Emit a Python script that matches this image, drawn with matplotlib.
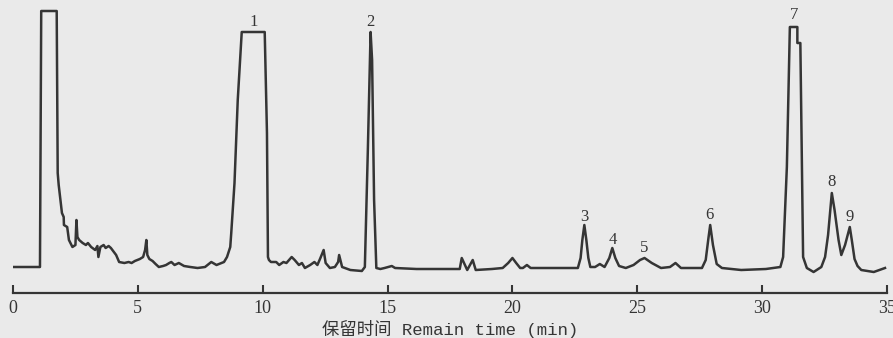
import matplotlib.pyplot as plt

# retention time (min) and detector response (a.u.)
time = [0, 1.08, 1.13, 1.75, 1.79, 1.83, 1.92, 1.96, 2.03, 2.04, 2.17, 2.24, 2.38, 2.5,
        2.54, 2.58, 2.65, 2.79, 2.92, 3.0, 3.13, 3.29, 3.38, 3.42, 3.5, 3.63, 3.71, 3.83,
        3.92, 4.04, 4.13, 4.25, 4.46, 4.63, 4.75, 4.88, 5.08, 5.21, 5.29, 5.34, 5.38, 5.46,
        5.59, 5.71, 5.84, 6.01, 6.13, 6.26, 6.34, 6.47, 6.64, 6.85, 7.10, 7.39, 7.69, 7.94,
        8.15, 8.45, 8.57, 8.70, 8.74, 8.87, 9.0, 9.16, 10.08, 10.17, 10.21, 10.25, 10.33,
        10.54, 10.66, 10.83, 10.95, 11.16, 11.28, 11.45, 11.57, 11.69, 11.90, 12.07, 12.19,
        12.31, 12.44, 12.52, 12.69, 12.89, 13.02, 13.06, 13.18, 13.51, 13.97, 14.09, 14.21,
        14.32, 14.38, 14.46, 14.55, 14.71, 14.88, 15.17, 15.30, 16.16, 17.89, 17.97, 18.19,
        18.41, 18.53, 19.18, 19.61, 19.83, 20.0, 20.15, 20.31, 20.42, 20.58, 20.73, 21.58,
        22.62, 22.73, 22.80, 22.88, 22.96, 23.04, 23.12, 23.31, 23.5, 23.69, 23.88, 24.0,
        24.12, 24.27, 24.54, 24.85, 25.11, 25.29, 25.58, 25.95, 26.31, 26.53, 26.75, 27.59,
        27.74, 27.85, 27.92, 28.03, 28.18, 28.39, 29.16, 30.15, 30.73, 30.84, 30.99, 31.11,
        31.41, 31.41, 31.53, 31.64, 31.79, 32.06, 32.37, 32.52, 32.64, 32.79, 32.90, 33.06,
        33.17, 33.32, 33.51, 33.59, 33.70, 33.82, 33.97, 34.47, 34.92]
signal = [0, 0, 256, 256, 94, 82, 62, 54, 50, 42, 40, 27, 20, 22,
          47, 30, 27, 24, 22, 24, 20, 17, 21, 10, 20, 22, 19, 21,
          19, 15, 12, 5, 4, 5, 4, 6, 8, 10, 17, 27, 12, 8,
          6, 3, 0, 1, 2, 4, 5, 2, 4, 1, 0, -1, 0, 5,
          2, 5, 10, 20, 34, 84, 167, 235, 235, 134, 10, 7, 5,
          5, 2, 5, 4, 10, 7, 2, 4, -1, 2, 5, 2,
          9, 17, 4, -1, 0, 5, 12, 0, -3, -4, 0, 117,
          235, 207, 67, -1, -2, -1, 1, -1, -2, -2, 9, -3,
          7, -3, -2, -1, 4, 9, 4, -1, -1, 2, -1, -1,
          -1, 9, 27, 42, 27, 9, 0, 0, 3, 0, 9, 19,
          9, 1, -1, 2, 7, 9, 4, -1, 0, 4, -1, -1,
          7, 29, 42, 22, 3, -1, -3, -2, 0, 10, 100, 240,
          240, 224, 224, 10, -1, -5, 0, 10, 32, 74, 57, 27,
          12, 22, 40, 27, 8, 1, -3, -5, -1]

# peak numbers: retention time and label height
peak_names = ['1', '2', '3', '4', '5', '6', '7', '8', '9']
peak_time = [9.63, 14.33, 22.88, 24.0, 25.29, 27.88, 31.27, 32.79, 33.51]
peak_label_y = [245, 245, 50, 27, 19, 52, 252, 85, 50]

xticks = [0, 5, 10, 15, 20, 25, 30, 35]

ink = '#353535'
bg = '#eaeaea'

fig = plt.figure(figsize=(8.93, 3.38), dpi=100, facecolor=bg)
ax = fig.add_axes([13 / 893, 45 / 338, 874 / 893, 288 / 338])
ax.set_facecolor(bg)

ax.plot(time, signal, color=ink, lw=1.8, solid_joinstyle='round')

for name, t, y in zip(peak_names, peak_time, peak_label_y):
    ax.text(t, y, name, ha='center', va='center', fontsize=12,
            family='Liberation Serif', color=ink)

ax.set_xlim(0, 35)
ax.set_ylim(-26, 262)
for s in ['left', 'right', 'top']:
    ax.spines[s].set_visible(False)
ax.spines['bottom'].set_color(ink)
ax.spines['bottom'].set_linewidth(1.6)
ax.set_yticks([])
ax.set_xticks(xticks)
ax.set_xticklabels([str(v) for v in xticks], family='Liberation Serif', fontsize=13)
ax.tick_params(axis='x', direction='in', length=5.5, width=1.5, color=ink,
               labelcolor=ink, pad=5)
ax.set_xlabel('保留时间 Remain time (min)', family=['Liberation Mono', 'Noto Sans CJK SC'],
              fontsize=12.5, color=ink, labelpad=2)

plt.savefig('out.png', dpi=100, facecolor=bg)
